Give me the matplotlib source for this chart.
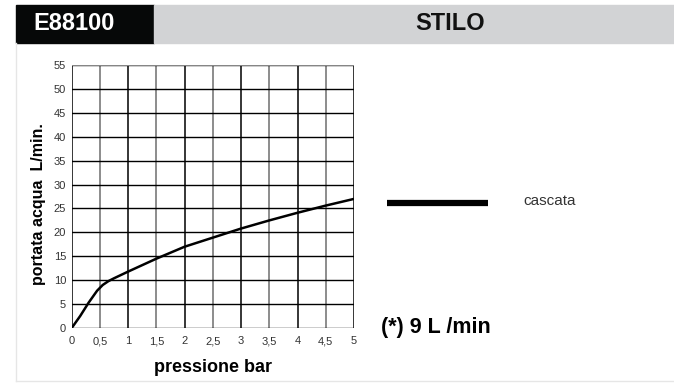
import numpy as np
import matplotlib.pyplot as plt
from matplotlib.patches import Rectangle
from matplotlib.lines import Line2D

# data
pressure = [0, 0.15, 0.3, 0.45, 0.55, 0.65, 0.75, 1.0, 1.5, 2.0, 2.5, 3.0, 3.5, 4.0, 4.5, 5.0]
flow = [0, 2.5, 5.3, 7.8, 9.0, 9.8, 10.4, 11.8, 14.5, 17.0, 18.9, 20.8, 22.5, 24.1, 25.6, 27.0]
x_ticks = [0, 0.5, 1, 1.5, 2, 2.5, 3, 3.5, 4, 4.5, 5]
x_labels = ["0", "0,5", "1", "1,5", "2", "2,5", "3", "3,5", "4", "4,5", "5"]
y_ticks = list(range(0, 56, 5))

FONT = ["Liberation Sans", "DejaVu Sans"]
W, H = 674, 383
fig = plt.figure(figsize=(W / 100, H / 100), dpi=100)
fig.patch.set_facecolor("white")

# header bars
fig.patches.append(Rectangle((16 / W, 1 - 43 / H), (154 - 16) / W, 38 / H,
                             transform=fig.transFigure, color="#060808"))
fig.patches.append(Rectangle((154 / W, 1 - 43 / H), (W - 154) / W, 38 / H,
                             transform=fig.transFigure, color="#d2d3d5"))
fig.text(33 / W, 1 - 24 / H, "E88100", color="white", fontsize=17, fontweight="bold",
         family=FONT, va="center", ha="left")
fig.text(450 / W, 1 - 24 / H, "STILO", color="#111111", fontsize=17, fontweight="bold",
         family=FONT, va="center", ha="center")

# faint frame
fig.lines.append(Line2D([16 / W, 16 / W], [1 - 43 / H, 1 - 381 / H], transform=fig.transFigure,
                        color="#e6e6e6", lw=1))
fig.lines.append(Line2D([16 / W, 1], [1 - 381 / H, 1 - 381 / H], transform=fig.transFigure,
                        color="#e6e6e6", lw=1))

ax = fig.add_axes([71.7 / W, 1 - 328 / H, (354 - 71.7) / W, (328 - 65) / H])
ax.plot(pressure, flow, color="black", lw=1.8, solid_capstyle="butt")
ax.set_xlim(0, 5)
ax.set_ylim(0, 55)

for xv in x_ticks:
    is_int = float(xv).is_integer()
    ax.axvline(xv, color="black" if is_int else "#6e6e6e", lw=1.1, zorder=0)
for yv in y_ticks:
    ax.axhline(yv, color="black", lw=1.0, zorder=0)
ax.axhline(55, color="#8a8a8a", lw=1.4, zorder=0)

for s in ax.spines.values():
    s.set_visible(False)

ax.set_xticks(x_ticks)
ax.set_xticklabels(x_labels)
ax.set_yticks(y_ticks)
ax.tick_params(length=0, labelsize=8, labelcolor="#333333", pad=6)
ax.tick_params(axis="y", pad=4)
for lab in ax.get_xticklabels() + ax.get_yticklabels():
    lab.set_family(FONT)
ax.set_xlabel("pressione bar", fontsize=13, fontweight="bold", family=FONT, labelpad=9)
ax.set_ylabel("portata acqua  L/min.", fontsize=11.5, fontweight="bold", family=FONT)
ax.yaxis.set_label_coords(-0.092, 0.47)

# legend and note
fig.lines.append(Line2D([387 / W, 488 / W], [1 - 203 / H, 1 - 203 / H], transform=fig.transFigure,
                        color="black", lw=4.5, solid_capstyle="butt"))
fig.text(523 / W, 1 - 201 / H, "cascata", fontsize=11, color="#333333", va="center", ha="left",
         family=FONT)
fig.text(381 / W, 1 - 327 / H, "(*) 9 L /min", fontsize=15.5, fontweight="bold", color="black",
         va="center", ha="left", family=FONT)

fig.savefig("out.png", dpi=100, facecolor="white")
